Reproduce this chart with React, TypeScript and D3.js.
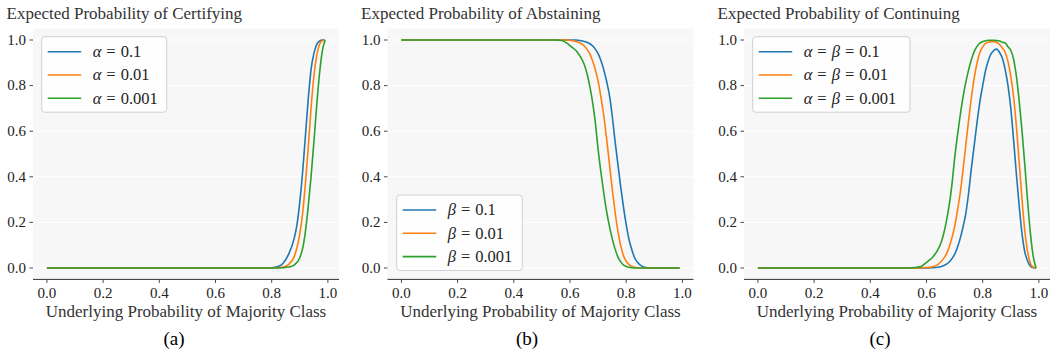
import React from 'react';
import * as d3 from 'd3';

type Pt = [number, number];

const xTicks = [0, 0.2, 0.4, 0.6, 0.8, 1.0];
const yTicks = [0, 0.2, 0.4, 0.6, 0.8, 1.0];
const levels = ['0.1', '0.01', '0.001'];
const colors = ['#1f77b4', '#ff7f0e', '#2ca02c'];
const titles = [
  'Expected Probability of Certifying',
  'Expected Probability of Abstaining',
  'Expected Probability of Continuing',
];
const subLabels = ['(a)', '(b)', '(c)'];
const xLabel = 'Underlying Probability of Majority Class';

// (a) certifying, alpha = 0.1 / 0.01 / 0.001
const certA1: Pt[] = [[0, 0], [0.78, 0], [0.8, 0.001], [0.82, 0.005], [0.84, 0.02], [0.86, 0.06], [0.88, 0.13], [0.89, 0.19], [0.9, 0.29], [0.91, 0.42], [0.92, 0.58], [0.93, 0.74], [0.94, 0.87], [0.95, 0.94], [0.96, 0.98], [0.97, 0.995], [0.98, 1], [0.99, 1]];
const certA2: Pt[] = [[0, 0], [0.8, 0], [0.82, 0.001], [0.84, 0.004], [0.86, 0.015], [0.88, 0.05], [0.89, 0.09], [0.9, 0.15], [0.91, 0.24], [0.92, 0.37], [0.93, 0.53], [0.94, 0.7], [0.95, 0.84], [0.96, 0.93], [0.97, 0.98], [0.98, 0.997], [0.99, 1]];
const certA3: Pt[] = [[0, 0], [0.82, 0], [0.84, 0.001], [0.86, 0.004], [0.88, 0.013], [0.9, 0.045], [0.91, 0.085], [0.92, 0.16], [0.93, 0.27], [0.94, 0.4], [0.95, 0.55], [0.96, 0.71], [0.97, 0.85], [0.98, 0.95], [0.99, 1]];

// (b) abstaining, beta = 0.1 / 0.01 / 0.001
const abstB1: Pt[] = [[0, 1], [0.62, 1], [0.64, 0.997], [0.66, 0.99], [0.68, 0.975], [0.69, 0.96], [0.7, 0.94], [0.71, 0.91], [0.72, 0.87], [0.73, 0.82], [0.74, 0.76], [0.75, 0.67], [0.76, 0.56], [0.77, 0.46], [0.78, 0.36], [0.79, 0.27], [0.8, 0.19], [0.81, 0.125], [0.82, 0.08], [0.83, 0.045], [0.84, 0.025], [0.85, 0.013], [0.86, 0.006], [0.87, 0.002], [0.88, 0], [0.99, 0]];
const abstB2: Pt[] = [[0, 1], [0.59, 1], [0.61, 0.997], [0.63, 0.99], [0.65, 0.975], [0.66, 0.96], [0.67, 0.94], [0.68, 0.91], [0.69, 0.87], [0.7, 0.82], [0.71, 0.75], [0.72, 0.67], [0.73, 0.57], [0.74, 0.46], [0.75, 0.35], [0.76, 0.25], [0.77, 0.165], [0.78, 0.1], [0.79, 0.055], [0.8, 0.03], [0.81, 0.015], [0.82, 0.007], [0.83, 0.003], [0.84, 0.001], [0.85, 0], [0.99, 0]];
const abstB3: Pt[] = [[0, 1], [0.55, 1], [0.57, 0.998], [0.58, 0.993], [0.59, 0.985], [0.6, 0.975], [0.61, 0.965], [0.62, 0.955], [0.63, 0.94], [0.64, 0.92], [0.65, 0.895], [0.66, 0.855], [0.67, 0.8], [0.68, 0.73], [0.69, 0.64], [0.7, 0.52], [0.71, 0.42], [0.72, 0.33], [0.73, 0.25], [0.74, 0.185], [0.75, 0.13], [0.76, 0.085], [0.77, 0.05], [0.78, 0.028], [0.79, 0.014], [0.8, 0.007], [0.81, 0.003], [0.82, 0.001], [0.83, 0], [0.99, 0]];

// (c) continuing, alpha = beta = 0.1 / 0.01 / 0.001
const contC1: Pt[] = [[0, 0], [0.6, 0], [0.62, 0.001], [0.64, 0.003], [0.66, 0.01], [0.68, 0.025], [0.69, 0.04], [0.7, 0.06], [0.71, 0.09], [0.72, 0.13], [0.73, 0.18], [0.74, 0.24], [0.75, 0.33], [0.76, 0.44], [0.77, 0.54], [0.78, 0.64], [0.79, 0.73], [0.8, 0.8], [0.81, 0.865], [0.82, 0.91], [0.83, 0.94], [0.84, 0.955], [0.85, 0.96], [0.86, 0.945], [0.87, 0.92], [0.88, 0.87], [0.89, 0.8], [0.9, 0.7], [0.91, 0.56], [0.92, 0.41], [0.93, 0.27], [0.94, 0.15], [0.95, 0.07], [0.96, 0.03], [0.97, 0.008], [0.98, 0.001], [0.99, 0]];
const contC2: Pt[] = [[0, 0], [0.57, 0], [0.6, 0.002], [0.62, 0.005], [0.64, 0.015], [0.66, 0.04], [0.67, 0.06], [0.68, 0.09], [0.69, 0.13], [0.7, 0.18], [0.71, 0.25], [0.72, 0.33], [0.73, 0.43], [0.74, 0.54], [0.75, 0.65], [0.76, 0.75], [0.77, 0.835], [0.78, 0.9], [0.79, 0.945], [0.8, 0.97], [0.81, 0.985], [0.82, 0.99], [0.83, 0.993], [0.84, 0.993], [0.85, 0.99], [0.86, 0.98], [0.87, 0.965], [0.88, 0.945], [0.89, 0.905], [0.9, 0.84], [0.91, 0.75], [0.92, 0.62], [0.93, 0.46], [0.94, 0.3], [0.95, 0.16], [0.96, 0.07], [0.97, 0.02], [0.98, 0.003], [0.99, 0]];
const contC3: Pt[] = [[0, 0], [0.53, 0], [0.56, 0.002], [0.58, 0.007], [0.6, 0.025], [0.61, 0.035], [0.62, 0.045], [0.63, 0.06], [0.64, 0.08], [0.65, 0.105], [0.66, 0.145], [0.67, 0.2], [0.68, 0.27], [0.69, 0.36], [0.7, 0.48], [0.71, 0.58], [0.72, 0.67], [0.73, 0.75], [0.74, 0.815], [0.75, 0.87], [0.76, 0.915], [0.77, 0.95], [0.78, 0.972], [0.79, 0.986], [0.8, 0.993], [0.81, 0.997], [0.82, 0.999], [0.84, 0.999], [0.86, 0.996], [0.87, 0.99], [0.88, 0.987], [0.89, 0.97], [0.9, 0.955], [0.91, 0.915], [0.92, 0.84], [0.93, 0.73], [0.94, 0.6], [0.95, 0.45], [0.96, 0.29], [0.97, 0.15], [0.98, 0.05], [0.99, 0]];

const panelSeries = [
  [certA1, certA2, certA3],
  [abstB1, abstB2, abstB3],
  [contC1, contC2, contC3],
];
const legendVars = [['α'], ['β'], ['α', 'β']];

const W = 1050;
const H = 352;
const FONT = "'Liberation Serif', 'DejaVu Serif', serif";
const plotLefts = [33, 387.5, 744];
const plotW = 306;
const plotTop = 28.6;
const plotBottom = 279.4;
const subCenters = [174, 527, 880];
const legendBoxes = [
  { x: 41.7, y: 36.7, w: 125 },
  { x: 396.7, y: 195, w: 125.6 },
  { x: 752.7, y: 36.7, w: 157.3 },
];

const Panel: React.FC<{ i: number }> = ({ i }) => {
  const left = plotLefts[i];
  const x = d3.scaleLinear().domain([-0.0495, 1.0395]).range([left, left + plotW]);
  const y = d3.scaleLinear().domain([-0.05, 1.05]).range([plotBottom, plotTop]);
  const line = d3
    .line<Pt>()
    .x(d => x(d[0]))
    .y(d => y(d[1]))
    .curve(d3.curveMonotoneX);
  const lg = legendBoxes[i];
  const vars = legendVars[i];

  return (
    <g style={{ fontFamily: FONT }}>
      <text x={left - 26.5} y={18.5} fontSize={17} fill="#333">
        {titles[i]}
      </text>
      <rect x={left} y={plotTop} width={plotW} height={plotBottom - plotTop} fill="#f7f7f7" />
      {yTicks.map(t => (
        <g key={t}>
          <line x1={left} x2={left + plotW} y1={y(t)} y2={y(t)} stroke="#fff" strokeWidth={1} />
          <line x1={left - 3.5} x2={left} y1={y(t)} y2={y(t)} stroke="#333" strokeWidth={0.9} />
          <text x={left - 7} y={y(t) + 4.8} textAnchor="end" fontSize={15} fill="#222">
            {t.toFixed(1)}
          </text>
        </g>
      ))}
      <line x1={left} x2={left + plotW} y1={plotBottom} y2={plotBottom} stroke="#333" strokeWidth={1} />
      {xTicks.map(t => (
        <g key={t}>
          <line x1={x(t)} x2={x(t)} y1={plotBottom} y2={plotBottom + 3.5} stroke="#333" strokeWidth={0.9} />
          <text x={x(t)} y={297.5} textAnchor="middle" fontSize={15} fill="#222">
            {t.toFixed(1)}
          </text>
        </g>
      ))}
      <text x={left + plotW / 2} y={316.5} textAnchor="middle" fontSize={17} fill="#333">
        {xLabel}
      </text>
      <text x={subCenters[i]} y={345} textAnchor="middle" fontSize={19} fill="#000">
        {subLabels[i]}
      </text>
      {panelSeries[i].map((s, k) => (
        <path key={k} d={line(s) || ''} fill="none" stroke={colors[k]} strokeWidth={1.6} />
      ))}
      <rect x={lg.x} y={lg.y} width={lg.w} height={75.5} rx={3} fill="#fff" fillOpacity={0.85} stroke="#d0d0d0" strokeWidth={1} />
      {levels.map((lv, k) => {
        const cy = lg.y + 15 + k * 23.3;
        return (
          <g key={lv}>
            <line x1={lg.x + 6} x2={lg.x + 39.5} y1={cy} y2={cy} stroke={colors[k]} strokeWidth={1.6} />
            <text x={lg.x + 51} y={cy + 5.2} fontSize={16.5} fill="#222">
              {vars.map((v, j) => (
                <React.Fragment key={v}>
                  <tspan fontStyle="italic" dx={j === 0 ? 0 : 5}>{v}</tspan>
                  <tspan dx={5}>=</tspan>
                </React.Fragment>
              ))}
              <tspan dx={5}>{lv}</tspan>
            </text>
          </g>
        );
      })}
    </g>
  );
};

const App: React.FC = () => (
  <svg width={W} height={H} style={{ position: 'absolute', left: 0, top: 0, background: '#fff' }}>
    {[0, 1, 2].map(i => (
      <Panel key={i} i={i} />
    ))}
  </svg>
);

export default App;
